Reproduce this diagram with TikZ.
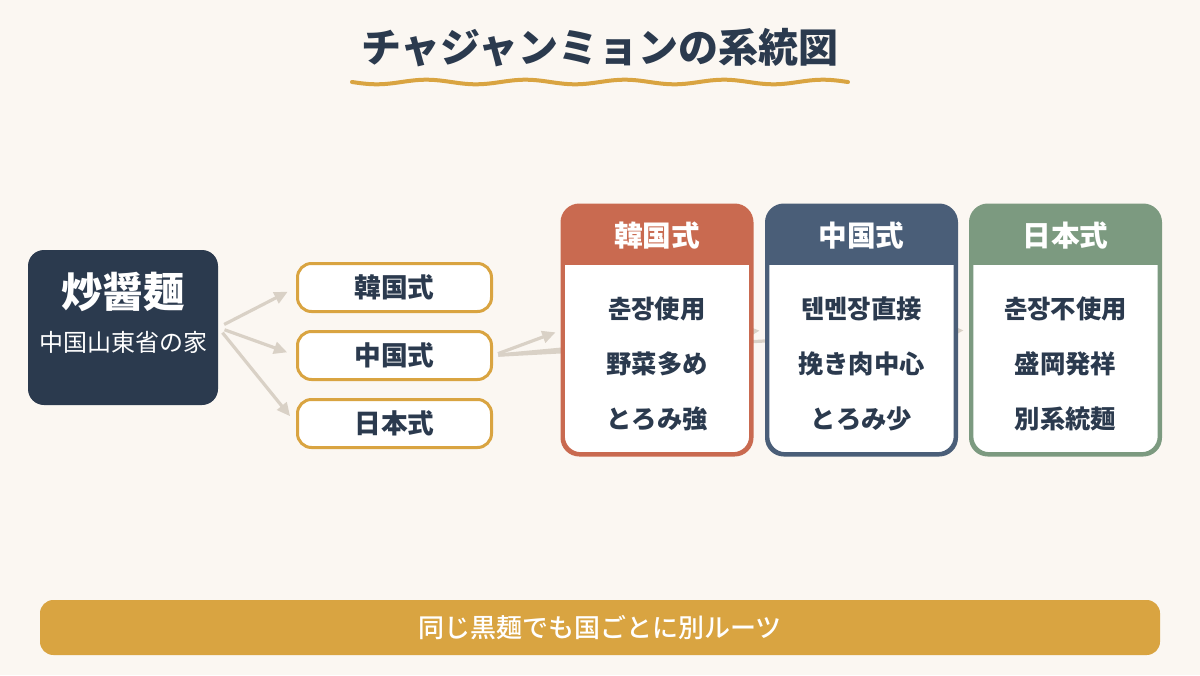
\documentclass[tikz,border=0pt]{standalone}
\usepackage{fontspec}
\setmainfont{Noto Sans CJK JP}
\newfontfamily\medfont{Noto Sans CJK JP Medium}
\usetikzlibrary{arrows.meta,positioning}
\definecolor{bgc}{HTML}{FBF7F2}
\definecolor{navy}{HTML}{2B3A4E}
\definecolor{gold}{HTML}{D9A441}
\definecolor{arrowc}{HTML}{D9D1C6}
\definecolor{korc}{HTML}{C96A50}
\definecolor{chnc}{HTML}{4A5E78}
\definecolor{jpnc}{HTML}{7C9A80}
\pgfdeclarelayer{bg}
\pgfdeclarelayer{arr}
\pgfsetlayers{bg,arr,main}
\tikzset{
  origin/.style={fill=navy, rounded corners=12pt, minimum width=142.5pt, minimum height=116.25pt, inner sep=0pt},
  smallbox/.style={draw=gold, line width=2.25pt, fill=white, rounded corners=10.5pt, minimum width=145.5pt, minimum height=36pt, inner sep=0pt, text=navy, font=\bfseries\fontsize{20}{22}\selectfont},
  card/.style={draw=#1, line width=2.25pt, fill=white, rounded corners=13pt, minimum width=140.5pt, minimum height=185.5pt, inner sep=0pt},
  headtxt/.style={text=white, font=\bfseries\fontsize{21.5}{24}\selectfont},
  bodytxt/.style={text=navy, font=\bfseries\fontsize{19}{22}\selectfont},
  flow/.style={draw=arrowc, line width=2.4pt, -{Triangle[length=10pt,width=9pt]}},
}
\begin{document}
\begin{tikzpicture}[x=0.75pt,y=-0.75pt]
\begin{pgfonlayer}{bg}
\fill[bgc] (0,0) rectangle (1200,675);
\end{pgfonlayer}
\useasboundingbox (0,0) rectangle (1200,675);

% title
\node[text=navy, font=\bfseries\fontsize{30}{34}\selectfont] (title) at (600,48) {チャジャンミョンの系統図};
\draw[gold, line width=3pt, line cap=round] plot[domain=352:848, samples=120] (\x, {82+2.3*sin((\x-352)*3.63)});

% origin
\node[origin] (orig) at (123,327.5) {};
\node[text=white, font=\bfseries\fontsize{31}{34}\selectfont] (origname) at (123,292) {炒醤麺};
\node[text=white, font=\fontsize{18}{21}\selectfont] (origsub) at (123,342) {中国山東省の家};

% small boxes
\node[smallbox] (sk) at (394.5,287.5) {韓国式};
\node[smallbox] (sc) at (394.5,355.5) {中国式};
\node[smallbox] (sj) at (394.5,423.5) {日本式};

% cards
\foreach \nm/\cx/\col/\hd/\la/\lb/\lc in {kor/657/korc/韓国式/춘장使用/野菜多め/とろみ強, chn/861.5/chnc/中国式/텐멘장直接/挽き肉中心/とろみ少, jpn/1065.5/jpnc/日本式/춘장不使用/盛岡発祥/別系統麺}{
  \node[card=\col] (\nm) at (\cx,330) {};
  \begin{scope}
    \clip[rounded corners=13pt] (\cx-95,205) rectangle (\cx+95,455);
    \fill[\col] (\cx-95,205) rectangle (\cx+95,265);
  \end{scope}
  \draw[\col, line width=2.25pt, rounded corners=13pt] (\cx-95,205) rectangle (\cx+95,455);
  \node[headtxt] (\nm-h) at (\cx,236) {\hd};
  \node[bodytxt] (\nm-a) at (\cx,309) {\la};
  \node[bodytxt] (\nm-b) at (\cx,364) {\lb};
  \node[bodytxt] (\nm-c) at (\cx,419) {\lc};
}

% connectors
\begin{pgfonlayer}{arr}
\draw[flow, shorten <=5pt, shorten >=7pt] (orig.east) -- (sk.west);
\draw[flow, shorten <=5pt, shorten >=7pt] (orig.east) -- (sc.west);
\draw[flow, shorten <=5pt, shorten >=7pt] (orig.east) -- (sj.west);
\draw[flow, shorten <=4pt, shorten >=5pt] (sc.east) -- (kor.west);
\draw[flow, shorten <=4pt, shorten >=5pt] (sc.east) -- (chn.west);
\draw[flow, shorten <=4pt, shorten >=5pt] (sc.east) -- (jpn.west);
\end{pgfonlayer}

% banner
\node[fill=gold, rounded corners=10pt, minimum width=840pt, minimum height=41.25pt, inner sep=0pt, text=white, font=\medfont\fontsize{19.5}{22}\selectfont] (banner) at (600,627.5) {同じ黒麺でも国ごとに別ルーツ};
\end{tikzpicture}
\end{document}
